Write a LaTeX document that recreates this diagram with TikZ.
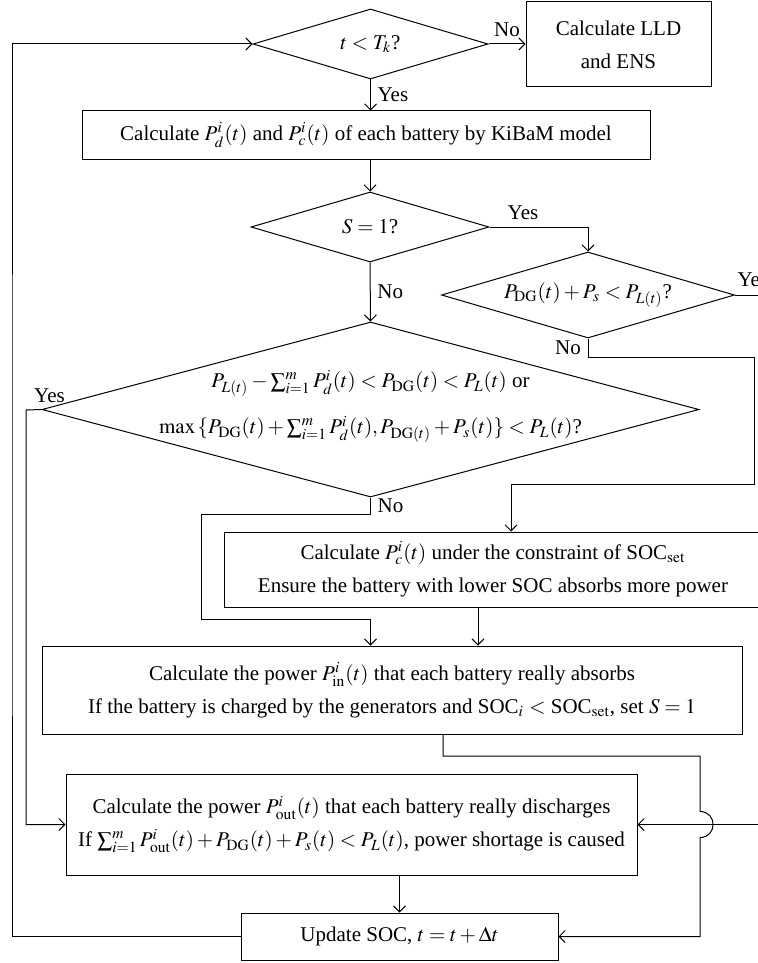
\documentclass[tikz,border=0pt]{standalone}
\usepackage{mathptmx}
\usepackage{fontspec}
\setmainfont{Liberation Serif}
\usetikzlibrary{shapes.geometric,arrows.meta}
\newcommand{\dtext}[1]{\smash{\makebox[0pt]{\begin{tabular}{@{}c@{}}#1\end{tabular}}}}

\begin{document}
\begin{tikzpicture}[x=0.5pt,y=-0.5pt,line width=0.5pt,
    >={Straight Barb[length=3pt,width=6pt]},
    every node/.style={font=\fontsize{10.5}{16.5}\selectfont},
    decision/.style={diamond,draw,aspect=3.4,inner sep=0pt},
    process/.style={rectangle,draw,align=center,inner sep=0pt}]
    \useasboundingbox (0,0) rectangle (758,963);
    % decisions and steps
    \node[decision,minimum width=117.5pt,minimum height=35pt] (ifT) at (370.5,44) {$t < T_k$?};
    \node[process,minimum width=92.5pt,minimum height=42.5pt] (lld) at (618.5,44.5) {Calculate LLD\\and ENS};
    \node[process,minimum width=284pt,minimum height=24pt] (kibam) at (366,135) {Calculate $P_d^i(t)$ and $P_c^i(t)$ of each battery by KiBaM model};
    \node[decision,minimum width=119pt,minimum height=35pt] (ifS) at (370,227) {$S = 1$?};
    \node[decision,minimum width=146.5pt,minimum height=43pt] (ifP) at (588,295) {$P_{\mathrm{DG}}(t) + P_s < P_{L(t)}$?};
    \node[decision,minimum width=328.5pt,minimum height=87.5pt] (ifM) at (370.5,409.5) {\dtext{$P_{L(t)} - \sum_{i=1}^{m} P_d^i(t) < P_{\mathrm{DG}}(t) < P_L(t)$ or\\[6.5pt]
        $\max\,\{P_{\mathrm{DG}}(t) + \sum_{i=1}^{m} P_d^i(t), P_{\mathrm{DG}(t)} + P_s(t)\}< P_L(t)$?}};
    \node[process,minimum width=269pt,minimum height=37.5pt] (charge) at (493,569.5) {Calculate $P_c^i(t)$ under the constraint of SOC$_{\mathrm{set}}$\\Ensure the battery with lower SOC absorbs more power};
    \node[process,minimum width=350pt,minimum height=44pt] (absorb) at (392,690) {Calculate the power $P_{\mathrm{in}}^i(t)$ that each battery really absorbs\\If the battery is charged by the generators and SOC$_i$ $<$ SOC$_{\mathrm{set}}$, set $S = 1$};
    \node[process,minimum width=285.5pt,minimum height=50.5pt] (discharge) at (351.5,824.5) {Calculate the power $P_{\mathrm{out}}^i(t)$ that each battery really discharges\\If $\sum_{i=1}^{m} P_{\mathrm{out}}^i(t) + P_{\mathrm{DG}}(t) + P_s(t) < P_L(t)$, power shortage is caused};
    \node[process,minimum width=158.5pt,minimum height=23.5pt] (update) at (399.5,936.5) {Update SOC, $t = t + \Delta t$};
    % bends
    \coordinate (ptR) at (775,295);
    \coordinate (ptN) at (754,357);
    \coordinate (ptC) at (511,484);
    \coordinate (ptL) at (201,619);
    \coordinate (ptY) at (26,410);
    \coordinate (ptA) at (478,0);
    \coordinate (ptB) at (443,756);
    \coordinate (ptH) at (700,824.5);
    \coordinate (ptO) at (12,500);
    % arrows
    \draw[->] (ifT.east) -- node[above] (noT) {No} (ifT.east -| lld.west);
    \draw[->] (ifT.south) -- node[right] (yesT) {Yes} (ifT.south |- kibam.north);
    \draw[->] (kibam.south -| ifS.north) -- (ifS.north);
    \draw[->] (ifS.east) -| node[above,pos=0.17] (yesS) {Yes} (ifP.north);
    \draw[->] (ifS.south) -- node[right] (noS) {No} (ifM.north);
    \draw[->] (ifP.east) -- node[pos=0,anchor=south west,inner sep=1pt,yshift=3pt] (yesP) {Yes} (ptR) |- (discharge.east);
    \draw[->] (ifP.south) -- node[left] (noP) {No} (ifP.south |- ptN) -- (ptN) |- (ptC) -- (ptC |- charge.north);
    \draw[->] (ifM.south) -- node[right] (noM) {No} ++(0,17) -| (ptL) -| (ifM.south |- absorb.north);
    \draw[->] (ifM.west) -- node[pos=0,above,xshift=4pt] (yesM) {Yes} (ptY) |- (discharge.west);
    \draw[->] (charge.south -| ptA) -- (absorb.north -| ptA);
    \draw[->] (absorb.south -| ptB) -- (ptB) -- (ptB -| ptH) -- ([yshift=6.5pt]ptH)
        .. controls ([xshift=8.7pt,yshift=6.5pt]ptH) and ([xshift=8.7pt,yshift=-6.5pt]ptH) .. ([yshift=-6.5pt]ptH) |- (update.east);
    \draw[->] (discharge.south -| update.north) -- (update.north);
    \draw[->] (update.west) -| (ptO) |- (ifT.west);
\end{tikzpicture}
\end{document}
